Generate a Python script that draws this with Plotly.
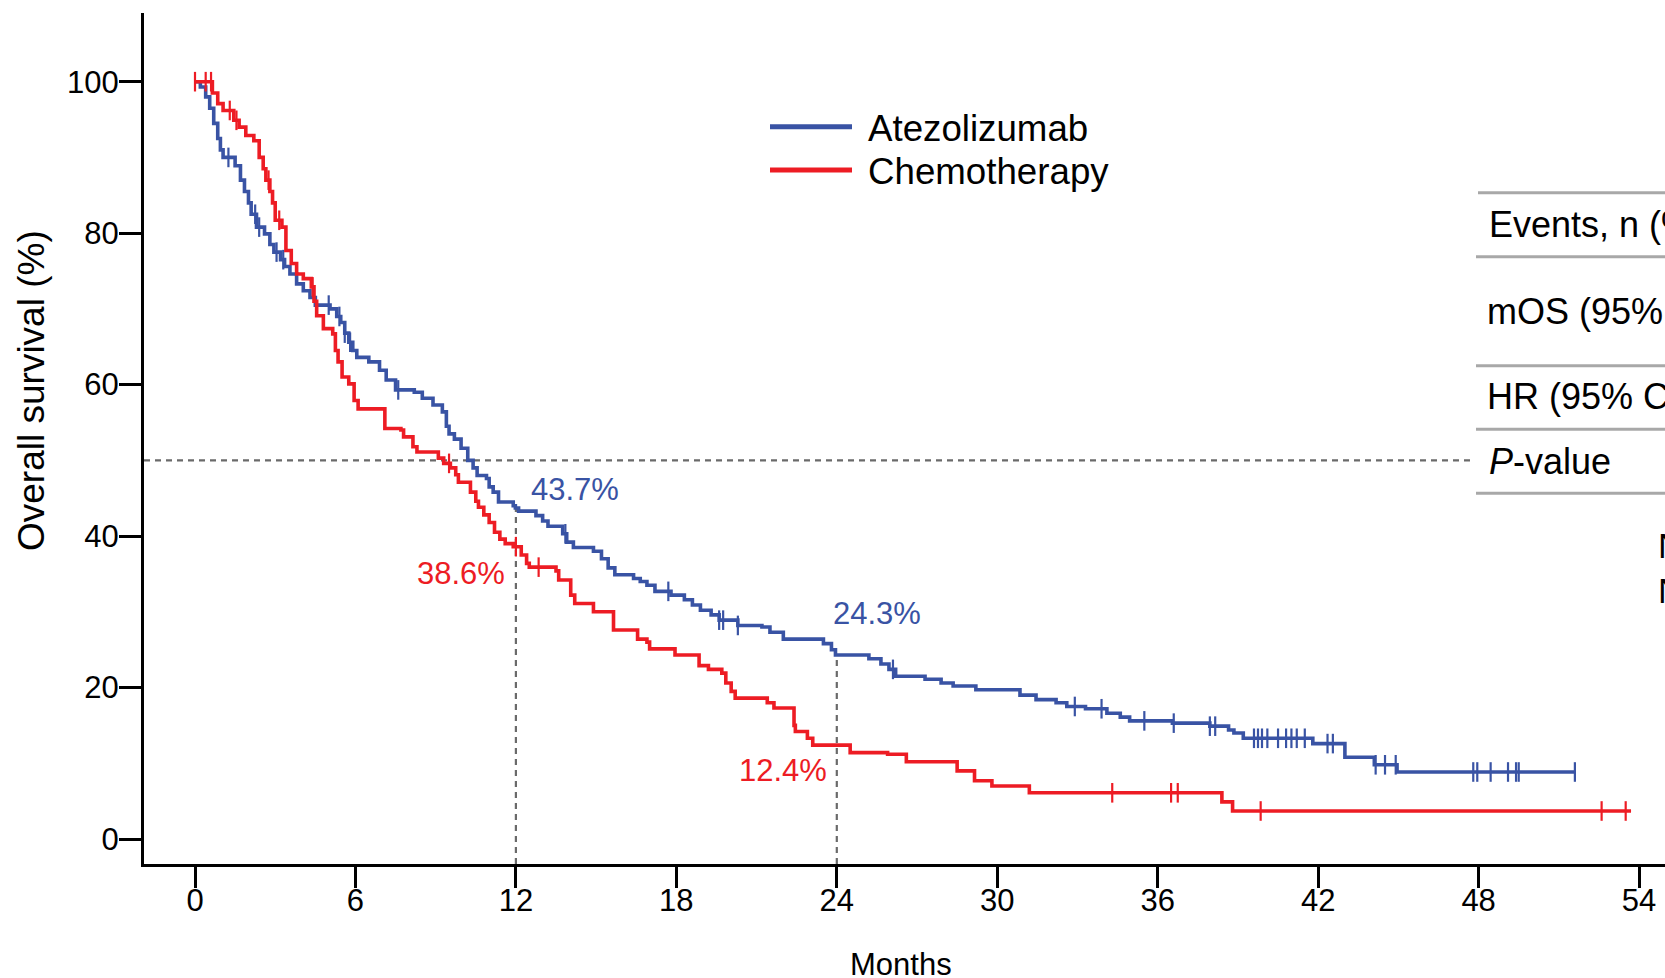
import numpy as np
import plotly.graph_objects as go

# ---- Kaplan-Meier step data (months, % surviving) ----
atezo_time = [0, 0.2, 0.4, 0.55, 0.7, 0.85, 0.95, 1.05, 1.5, 1.7, 1.85, 2.0, 2.1, 2.3, 2.6, 2.8, 2.95,
              3.2, 3.35, 3.55, 3.8, 4.05, 4.3, 4.5, 5.05, 5.3, 5.45, 5.6, 5.75, 5.9, 6.05, 6.5, 6.9,
              7.15, 7.5, 8.2, 8.5, 8.9, 9.25, 9.4, 9.5, 9.7, 9.95, 10.2, 10.4, 10.55, 10.9, 11.0,
              11.15, 11.35, 11.9, 11.98, 12.1, 12.75, 13.0, 13.2, 13.75, 13.9, 14.15, 14.9, 15.2,
              15.45, 15.7, 16.4, 16.65, 16.9, 17.2, 17.8, 18.3, 18.6, 18.9, 19.3, 19.6, 20.3, 21.2,
              21.5, 22.0, 23.5, 23.8, 23.95, 25.2, 25.65, 25.95, 26.2, 27.3, 27.9, 28.35, 29.2,
              30.85, 31.45, 32.2, 32.6, 33.3, 34.1, 34.6, 34.95, 36.55, 37.95, 38.65, 38.85, 39.2,
              41.8, 43.0, 44.1, 44.95]
atezo_surv = [100, 99.3, 98.0, 96.5, 94.5, 92.5, 91.0, 90.0, 88.9, 87.0, 85.5, 84.0, 82.5, 80.8, 79.9,
              78.5, 77.5, 76.5, 75.6, 74.6, 73.3, 72.4, 71.5, 70.5, 70.0, 69.0, 68.2, 66.8, 65.6,
              64.5, 63.6, 63.0, 61.9, 60.6, 59.3, 59.0, 58.2, 57.3, 56.4, 54.5, 53.5, 52.8, 51.6,
              50.0, 49.0, 48.0, 47.6, 46.5, 45.8, 44.5, 44.0, 43.7, 43.3, 42.7, 42.0, 41.3, 40.3,
              39.2, 38.5, 38.0, 37.0, 35.8, 34.9, 34.4, 34.0, 33.5, 32.7, 32.2, 31.6, 30.9, 30.2,
              29.6, 28.9, 28.2, 28.0, 27.3, 26.4, 25.8, 25.0, 24.3, 23.8, 23.1, 22.4, 21.5, 21.1,
              20.6, 20.2, 19.7, 19.0, 18.4, 18.0, 17.5, 17.2, 16.6, 16.1, 15.6, 15.3, 14.9, 14.4,
              14.0, 13.3, 12.6, 10.8, 9.8, 8.85]
atezo_end = 51.6
atezo_censor = [1.25, 2.25, 2.4, 3.05, 3.3, 5.0, 5.4, 5.6, 5.8, 7.6, 13.85, 17.7, 19.6, 19.75, 20.3,
                26.1, 32.9, 33.9, 35.5, 36.6, 37.95, 38.15, 39.6, 39.75, 39.9, 40.1, 40.5, 40.8,
                41.0, 41.2, 41.5, 42.35, 42.55, 44.15, 44.5, 44.9, 47.8, 47.95, 48.45, 49.1, 49.4,
                49.5, 51.6]

chemo_time = [0, 0.65, 0.85, 1.05, 1.45, 1.65, 1.9, 2.2, 2.4, 2.55, 2.65, 2.8, 2.9, 3.0, 3.25, 3.4,
              3.6, 3.8, 4.05, 4.35, 4.45, 4.55, 4.8, 5.15, 5.25, 5.35, 5.5, 5.75, 5.95, 6.1, 7.1,
              7.7, 7.8, 8.15, 8.3, 9.1, 9.3, 9.55, 9.75, 9.85, 10.3, 10.5, 10.6, 10.8, 11.0, 11.2,
              11.4, 11.6, 11.9, 12.2, 12.4, 12.5, 13.5, 13.6, 14.05, 14.2, 14.9, 15.65, 16.55,
              16.9, 17.0, 17.95, 18.85, 19.2, 19.7, 19.85, 20.05, 20.2, 21.4, 21.65, 22.4, 22.45,
              22.9, 23.1, 24.5, 25.9, 26.6, 28.5, 29.15, 29.8, 31.2, 38.4, 38.8]
chemo_surv = [100, 98.5, 97.1, 96.2, 94.9, 94.0, 92.9, 92.2, 90.0, 88.5, 87.0, 85.5, 84.0, 81.7, 80.8,
              77.7, 76.0, 74.6, 74.0, 72.9, 71.0, 69.1, 67.4, 66.7, 64.5, 63.0, 61.0, 60.1, 57.9,
              56.8, 54.2, 54.0, 53.1, 51.8, 51.1, 50.3, 49.6, 49.0, 48.1, 47.1, 45.8, 44.6, 43.8,
              42.8, 41.8, 40.5, 39.6, 39.0, 38.6, 37.5, 36.4, 35.9, 35.4, 34.2, 32.2, 31.1, 30.0,
              27.6, 26.4, 26.0, 25.1, 24.3, 22.9, 22.4, 21.9, 20.6, 19.5, 18.6, 18.0, 17.3, 15.0,
              14.2, 13.3, 12.4, 11.4, 11.2, 10.2, 9.0, 7.7, 7.0, 6.1, 4.9, 3.7]
chemo_end = 53.7
chemo_censor = [0, 0.4, 0.6, 1.3, 1.55, 2.75, 3.15, 4.4, 9.5, 12.0, 12.85, 34.3, 36.5, 36.75, 39.85,
                52.6, 53.5]

arm_names = ["Atezolizumab", "Chemotherapy"]
arm_colors = ["#3953a4", "#ed1c24"]

# landmark survival estimates
landmark_months = [12, 24]
atezo_landmark = [43.7, 24.3]
chemo_landmark = [38.6, 12.4]

x_ticks = [0, 6, 12, 18, 24, 30, 36, 42, 48, 54]
y_ticks = [0, 20, 40, 60, 80, 100]

table_rows = ["Events, n (%)", "mOS (95% CI), months", "HR (95% CI)", "<i>P</i>-value"]

# ---- figure geometry ----
W, H = 1665, 978
ML, MR, MT, MB = 144, 0, 13, 114
X_RANGE = [-1.907, 54.97]
Y_RANGE = [-3.30, 109.07]
FONT = "Liberation Sans, Arial, Helvetica, sans-serif"


def px(xp):
    return (xp - ML) / (W - ML - MR)


def py(yp):
    return (H - MB - yp) / (H - MT - MB)


def step_value(times, surv, t):
    idx = np.searchsorted(np.asarray(times), t, side="right") - 1
    return np.asarray(surv)[idx]


fig = go.Figure()

arms = [
    (atezo_time, atezo_surv, atezo_end, atezo_censor),
    (chemo_time, chemo_surv, chemo_end, chemo_censor),
]

# reference lines: median (50%) and landmark drop lines
fig.add_shape(type="line", xref="x", yref="y", x0=X_RANGE[0], x1=47.8, y0=50, y1=50,
              line=dict(color="#6a6a6a", width=2.2, dash="6px,5px"), layer="below")
for m, s in zip(landmark_months, atezo_landmark):
    fig.add_shape(type="line", xref="x", yref="y", x0=m, x1=m, y0=Y_RANGE[0], y1=s,
                  line=dict(color="#6a6a6a", width=2.2, dash="6px,5px"), layer="below")

for (t, s, end, cens), name, col in zip(arms, arm_names, arm_colors):
    fig.add_trace(go.Scatter(
        x=list(t) + [end], y=list(s) + [s[-1]], mode="lines", name=name,
        line=dict(color=col, width=3.6, shape="hv"), showlegend=False,
    ))
    fig.add_trace(go.Scatter(
        x=cens, y=[step_value(t, s, c) for c in cens], mode="markers", name=name + " censored",
        marker=dict(symbol="line-ns", size=14, line=dict(color=col, width=2.2)),
        showlegend=False,
    ))

# landmark labels
label_font = dict(family=FONT, size=31)
fig.add_annotation(x=landmark_months[0] + 0.5, y=46.2, text=f"{atezo_landmark[0]}%", showarrow=False,
                   xanchor="left", yanchor="middle", font=dict(label_font, color=arm_colors[0]))
fig.add_annotation(x=landmark_months[1] - 0.2, y=29.8, text=f"{atezo_landmark[1]}%", showarrow=False,
                   xanchor="left", yanchor="middle", font=dict(label_font, color=arm_colors[0]))
fig.add_annotation(x=landmark_months[0] - 0.33, y=35.0, text=f"{chemo_landmark[0]}%", showarrow=False,
                   xanchor="right", yanchor="middle", font=dict(label_font, color=arm_colors[1]))
fig.add_annotation(x=landmark_months[1] - 0.28, y=9.1, text=f"{chemo_landmark[1]}%", showarrow=False,
                   xanchor="right", yanchor="middle", font=dict(label_font, color=arm_colors[1]))

# legend
for i, (name, col) in enumerate(zip(arm_names, arm_colors)):
    yl = [126.7, 170.0][i]
    fig.add_shape(type="line", xref="paper", yref="paper", x0=px(770), x1=px(852),
                  y0=py(yl), y1=py(yl), line=dict(color=col, width=5))
    fig.add_annotation(xref="paper", yref="paper", x=px(866), y=py([128.3, 171.7][i]), text=name,
                       showarrow=False, xanchor="left", yanchor="middle",
                       font=dict(family=FONT, size=36.7, color="black"))

# summary table (right side)
for i, yl in enumerate([192.7, 256.7, 365.7, 429.3, 493.3]):
    fig.add_shape(type="line", xref="paper", yref="paper", x0=px(1478 if i == 0 else 1476), x1=1,
                  y0=py(yl), y1=py(yl), line=dict(color="#a8a8a8", width=3))
for txt, xl, yc in zip(table_rows, [1487, 1485, 1485, 1487], [225, 311.7, 396.7, 461.7]):
    fig.add_annotation(xref="paper", yref="paper", x=px(xl), y=py(yc), text=txt, showarrow=False,
                       xanchor="left", yanchor="middle", font=dict(family=FONT, size=36, color="black"))
for yc in [545.5, 590.5]:
    fig.add_annotation(xref="paper", yref="paper", x=px(1656), y=py(yc), text="N", showarrow=False,
                       xanchor="left", yanchor="middle", font=dict(family=FONT, size=35, color="black"))

# axis titles
fig.add_annotation(xref="paper", yref="paper", x=px(31), y=py(391), text="Overall survival (%)",
                   textangle=-90, showarrow=False, xanchor="center", yanchor="middle",
                   font=dict(family=FONT, size=37, color="black"))
fig.add_annotation(xref="paper", yref="paper", x=px(900.5), y=py(965), text="Months",
                   showarrow=False, xanchor="center", yanchor="middle",
                   font=dict(family=FONT, size=31, color="black"))

fig.update_xaxes(range=X_RANGE, tickmode="array", tickvals=x_ticks, ticktext=[str(v) for v in x_ticks],
                 showline=True, linecolor="black", linewidth=3, ticks="outside", ticklen=21,
                 tickwidth=2.5, tickcolor="black", showgrid=False, zeroline=False,
                 ticklabelstandoff=-14,
                 tickfont=dict(family=FONT, size=31, color="black"))
fig.update_yaxes(range=Y_RANGE, tickmode="array", tickvals=y_ticks, ticktext=[str(v) for v in y_ticks],
                 showline=True, linecolor="black", linewidth=3, ticks="outside", ticklen=22,
                 tickwidth=2.5, tickcolor="black", showgrid=False, zeroline=False,
                 ticklabelstandoff=-6,
                 tickfont=dict(family=FONT, size=31, color="black"))

fig.update_layout(width=W, height=H, margin=dict(l=ML, r=MR, t=MT, b=MB, pad=0),
                  plot_bgcolor="white", paper_bgcolor="white", showlegend=False,
                  font=dict(family=FONT, color="black"))

fig.write_html("out.html")
